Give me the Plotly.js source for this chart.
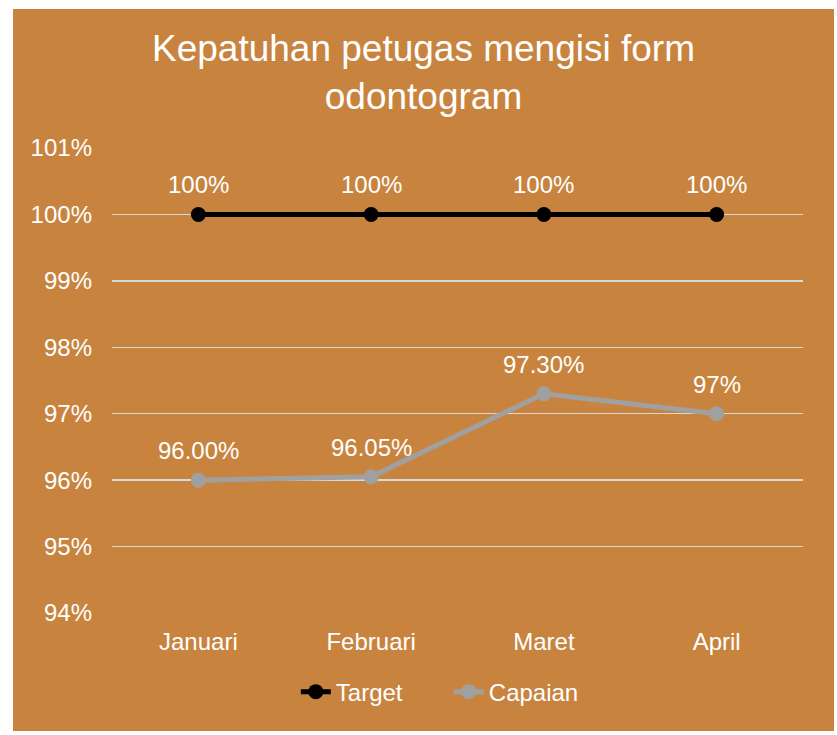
<!DOCTYPE html>
<html>
<head>
<meta charset="utf-8">
<script src="https://cdn.plot.ly/plotly-3.0.1.min.js"></script>
<style>
  html, body { margin: 0; padding: 0; background: #ffffff; width: 837px; height: 735px; overflow: hidden; }
  #chart { position: absolute; left: 13px; top: 9px; width: 821px; height: 722px; }
</style>
</head>
<body>
<div id="chart"></div>
<script>
const months = ["Januari", "Februari", "Maret", "April"];
const targetValues = [1.00, 1.00, 1.00, 1.00];
const capaianValues = [0.9600, 0.9605, 0.9730, 0.9700];
const targetLabels = ["100%", "100%", "100%", "100%"];
const capaianLabels = ["96.00%", "96.05%", "97.30%", "97%"];
const yTickValues = [0.94, 0.95, 0.96, 0.97, 0.98, 0.99, 1.00, 1.01];

const FONT = "Liberation Sans, Arial, sans-serif";
const BG = "#C8843F";

const traces = [
  {
    x: months, y: targetValues, name: "Target",
    type: "scatter", mode: "lines+markers",
    line: { color: "#000000", width: 5 },
    marker: { color: "#000000", size: 15 }
  },
  {
    x: months, y: capaianValues, name: "Capaian",
    type: "scatter", mode: "lines+markers",
    line: { color: "#A0A0A0", width: 5 },
    marker: { color: "#A0A0A0", size: 15 }
  }
];

function labelAnnotations(xs, ys, labels) {
  return xs.map((x, i) => ({
    x: x, y: ys[i], xref: "x", yref: "y",
    text: labels[i], showarrow: false,
    xanchor: "center", yanchor: "bottom", yshift: 14,
    font: { family: FONT, size: 24, color: "#ffffff" }
  }));
}

const layout = {
  width: 821, height: 722,
  paper_bgcolor: BG, plot_bgcolor: BG,
  margin: { l: 98.5, r: 30.5, t: 139, b: 118 },
  font: { family: FONT, size: 24, color: "#ffffff" },
  title: {
    text: "Kepatuhan petugas mengisi form<br>odontogram",
    font: { family: FONT, size: 37, color: "#ffffff" },
    x: 0.5, xanchor: "center", xref: "container",
    y: 1 - 52 / 722, yanchor: "top", yref: "container"
  },
  xaxis: {
    type: "category", range: [-0.5, 3.5],
    showgrid: false, zeroline: false, showline: false,
    ticks: "", ticklabelstandoff: 12,
    tickfont: { family: FONT, size: 24, color: "#ffffff" }
  },
  yaxis: {
    range: [0.94, 1.01], tickvals: yTickValues, tickformat: ".0%",
    showgrid: true, gridcolor: "#D6D8DA", gridwidth: 1.4,
    zeroline: false, showline: false, ticks: "", ticklabelstandoff: 19,
    tickfont: { family: FONT, size: 24, color: "#ffffff" }
  },
  annotations: labelAnnotations(months, targetValues, targetLabels)
    .concat(labelAnnotations(months, capaianValues, capaianLabels)),
  showlegend: true,
  legend: {
    orientation: "h", x: 0.266, xanchor: "left",
    y: -0.17, yanchor: "middle",
    font: { family: FONT, size: 24, color: "#ffffff" },
    bgcolor: "rgba(0,0,0,0)", entrywidth: 108, entrywidthmode: "pixels"
  },
  hovermode: false
};

Plotly.newPlot("chart", traces, layout, { displayModeBar: false, staticPlot: true });
</script>
</body>
</html>
